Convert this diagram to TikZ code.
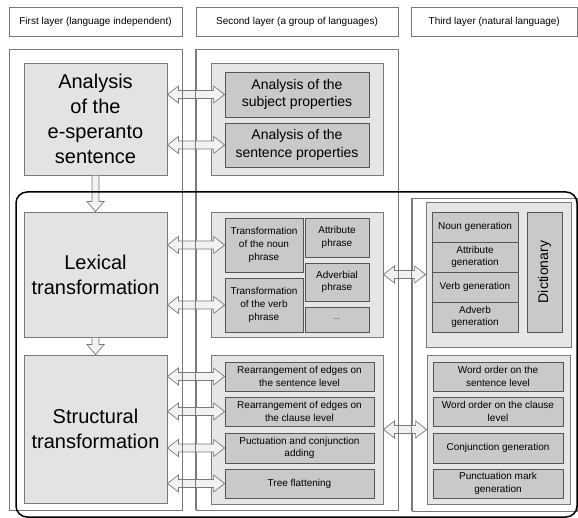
\documentclass[tikz,border=0pt]{standalone}
\usepackage{fontspec}
\setmainfont{Liberation Sans}
\usetikzlibrary{calc}
\definecolor{bigfill}{HTML}{E3E3E3}
\definecolor{grpfill}{HTML}{E6E6E6}
\definecolor{infill}{HTML}{C9C9C9}
\definecolor{arrfill}{HTML}{F2F2F2}
\definecolor{lined}{HTML}{7A7A7A}
\definecolor{darkline}{HTML}{555555}
\tikzset{
  colbox/.style={draw=lined, fill=white, line width=0.8pt, inner sep=0pt},
  colline/.style={draw=lined, line width=0.8pt},
  bigbox/.style={draw=lined, fill=bigfill, line width=0.8pt, inner sep=0pt, align=center, font=\fontsize{20}{25}\selectfont},
  grpbox/.style={draw=lined, fill=grpfill, line width=0.8pt, inner sep=0pt},
  inbox/.style={draw=darkline, fill=infill, line width=0.8pt, inner sep=0pt, align=center, font=\fontsize{10}{12.8}\selectfont},
  inboxL/.style={inbox, font=\fontsize{14}{17.5}\selectfont},
  hdr/.style={colbox, font=\fontsize{10}{12}\selectfont},
  blk/.style={draw=lined, fill=arrfill, line width=0.7pt, line join=miter},
  frame/.style={draw=black, line width=1.5pt, rounded corners=11pt}
}
\newcommand\bx[7]{\node[#2,minimum width={(#5-#3)*1pt},minimum height={(#6-#4)*1pt}] (#1) at ({(#3+#5)/2},{(#4+#6)/2}) {#7};}
\newcommand\dbl[2]{\draw[blk] let \p1=(#1.east), \p2=(#2.west) in
  (\x1,\y2) -- ({\x1+11pt},{\y2+8.5pt}) -- ({\x1+11pt},{\y2+4pt}) -- ({\x2-11pt},{\y2+4pt}) -- ({\x2-11pt},{\y2+8.5pt}) -- (\x2,\y2)
  -- ({\x2-11pt},{\y2-8.5pt}) -- ({\x2-11pt},{\y2-4pt}) -- ({\x1+11pt},{\y2-4pt}) -- ({\x1+11pt},{\y2-8.5pt}) -- cycle;}
\newcommand\down[2]{\draw[blk] let \p1=(#1.south), \p2=(#2.north) in
  ({\x1-3.5pt},\y1) -- ({\x1+3.5pt},\y1) -- ({\x1+3.5pt},{\y2+10pt}) -- ({\x1+8.5pt},{\y2+10pt}) -- (\x1,\y2)
  -- ({\x1-8.5pt},{\y2+10pt}) -- ({\x1-3.5pt},{\y2+10pt}) -- cycle;}
\begin{document}
\begin{tikzpicture}[x=1pt,y=-1pt]
\useasboundingbox (0,0) rectangle (578,518);
% headers
\bx{h1}{hdr}{9}{7}{182}{36}{First layer (language independent)}
\bx{h2}{hdr}{196}{7}{398}{36}{Second layer (a group of languages)}
\bx{h3}{hdr}{411}{7}{577.5}{36}{Third layer (natural language)}
% columns
\bx{c1}{colbox}{9}{49}{182}{510}{}
\bx{c2}{colbox}{196}{49}{398}{510}{}
\bx{c3}{colbox}{412}{198}{577}{511}{}
% first layer
\bx{ana}{bigbox}{24}{63}{167}{175}{Analysis\\of the\\e-speranto\\sentence}
\bx{lex}{bigbox}{24}{212}{167}{337}{Lexical\\transformation}
\bx{str}{bigbox}{24}{355}{167}{503}{Structural\\transformation}
% second layer groups
\bx{g2a}{grpbox}{211}{63}{383}{175}{}
\bx{g2b}{grpbox}{211}{212}{383}{337}{}
\bx{g2c}{grpbox}{211}{355}{383}{504}{}
\bx{subj}{inboxL}{225}{72}{369}{117}{Analysis of the\\subject properties}
\bx{sent}{inboxL}{225}{123}{369}{167}{Analysis of the\\sentence properties}
\bx{noun}{inbox}{225}{218}{303}{272}{Transformation\\of the noun\\phrase}
\bx{verb}{inbox}{225}{278}{303}{332}{Transformation\\of the verb\\phrase}
\bx{attr}{inbox}{305}{218}{369}{257}{Attribute\\phrase}
\bx{adv}{inbox}{305}{263}{369}{301}{Adverbial\\phrase}
\bx{dots}{inbox}{305}{307}{369}{332}{\fontsize{7}{8}\selectfont ...}
\bx{rs}{inbox}{225}{362}{374}{391}{Rearrangement of edges on\\the sentence level}
\bx{rc}{inbox}{225}{397}{374}{426}{Rearrangement of edges on\\the clause level}
\bx{pc}{inbox}{225}{433}{374}{463}{Puctuation and conjunction\\adding}
\bx{tf}{inbox}{225}{469}{374}{498}{Tree flattening}
% third layer groups
\bx{g3a}{grpbox}{426}{202}{571}{347}{}
\bx{g3b}{grpbox}{427}{355}{570}{504}{}
\bx{ng}{inbox}{432}{212}{518}{242}{Noun generation}
\bx{ag}{inbox}{432}{242}{518}{272}{Attribute\\generation}
\bx{vg}{inbox}{432}{272}{518}{302}{Verb generation}
\bx{avg}{inbox}{432}{302}{518}{332}{Adverb\\generation}
\bx{dict}{inboxL}{527}{212}{562}{332}{}
\node[rotate=90, font=\fontsize{14}{17}\selectfont] (dictlbl) at (dict.center) {Dictionary};
\bx{wos}{inbox}{433}{362}{563}{391}{Word order on the\\sentence level}
\bx{woc}{inbox}{433}{397}{563}{426}{Word order on the clause\\level}
\bx{cg}{inbox}{433}{433}{563}{463}{Conjunction generation}
\bx{pm}{inbox}{433}{469}{563}{498}{Punctuation mark\\generation}
% arrows
\dbl{ana}{subj}
\dbl{ana}{sent}
\dbl{lex}{noun}
\dbl{lex}{verb}
\dbl{str}{rs}
\dbl{str}{rc}
\dbl{str}{pc}
\dbl{str}{tf}
\dbl{g2b}{g3a}
\dbl{g2c}{g3b}
\down{ana}{lex}
\down{lex}{str}
% column lines over arrows
\draw[colline] (c1.north east) -- (c1.south east);
\draw[colline] (c2.north west) -- (c2.south west);
\draw[colline] (c2.north east) -- (c2.south east);
\draw[colline] (c3.north west) -- (c3.south west);
% frame
\draw[frame] (16,192) rectangle (577,517);
\end{tikzpicture}
\end{document}
